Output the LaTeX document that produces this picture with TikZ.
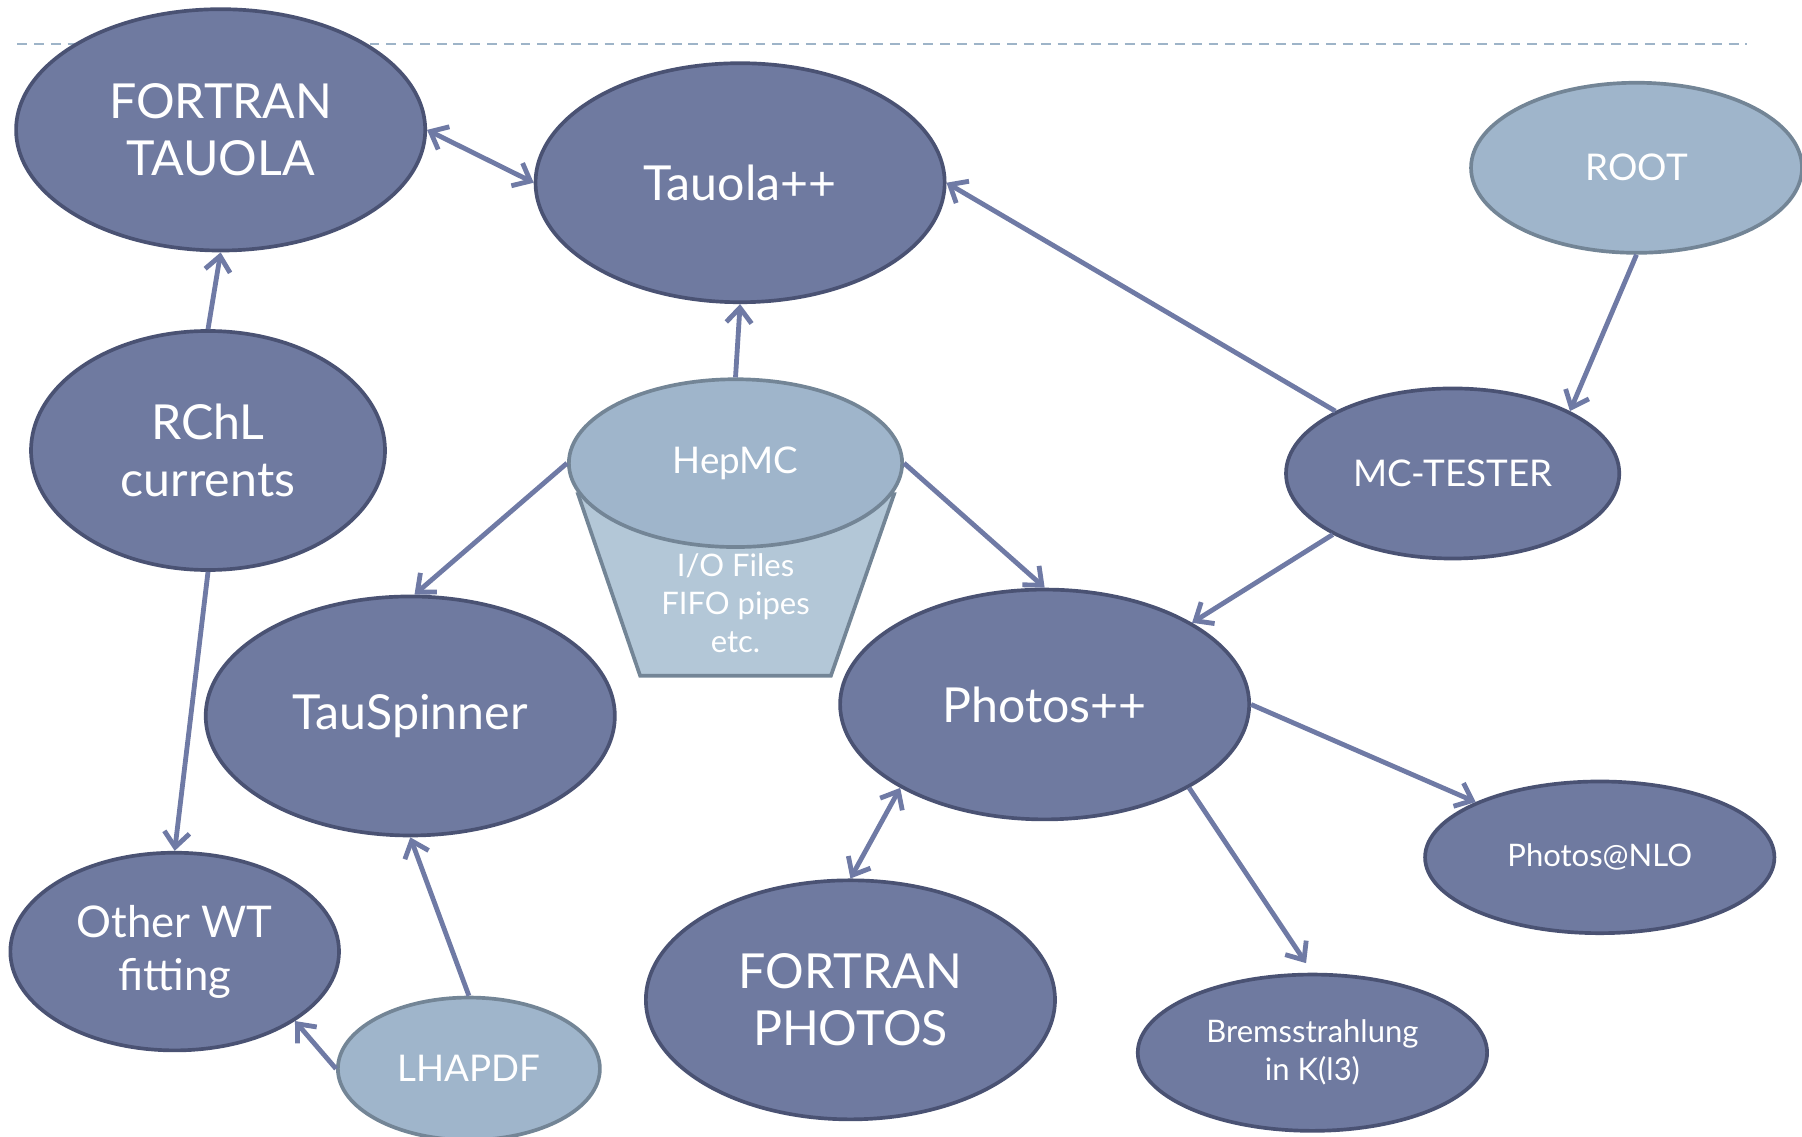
\documentclass[tikz,border=0pt]{standalone}
\usepackage{fontspec}
\setmainfont{Lato}
\usetikzlibrary{shapes.geometric,arrows.meta}
\definecolor{darkfill}{RGB}{111,122,160}
\definecolor{darkline}{RGB}{74,82,115}
\definecolor{lightfill}{RGB}{159,181,203}
\definecolor{lightline}{RGB}{115,133,150}
\definecolor{bucketfill}{RGB}{179,199,215}
\definecolor{arrowcol}{RGB}{111,122,165}
\definecolor{dashcol}{RGB}{158,180,200}
\tikzset{
  x=0.5pt, y=-0.5pt,
  darknode/.style={ellipse, draw=darkline, fill=darkfill, line width=1.6pt, text=white, inner sep=0pt, align=center},
  lightnode/.style={ellipse, draw=lightline, fill=lightfill, line width=1.6pt, text=white, inner sep=0pt, align=center},
  bigfont/.style={font=\fontsize{21}{24.5}\selectfont},
  midfont/.style={font=\fontsize{16}{19}\selectfont},
  smallfont/.style={font=\fontsize{13.5}{16.5}\selectfont},
  conn/.style={draw=arrowcol, line width=2.1pt, -{Straight Barb[length=6.5pt,width=11pt]}},
  biconn/.style={draw=arrowcol, line width=2.1pt, {Straight Barb[length=6.5pt,width=11pt]}-{Straight Barb[length=6.5pt,width=11pt]}},
}
\begin{document}
\begin{tikzpicture}
\useasboundingbox (0,0) rectangle (1568,989);
% dashed header line
\draw[dashcol, line width=0.9pt, dash pattern=on 4.3pt off 3pt] (15,38) coordinate (dl) -- (1520,38) coordinate (dr);
% bucket body
\fill[bucketfill, draw=lightline, line width=1.6pt] (503,430) -- (557,588) -- (723,588) -- (778,430) -- cycle;
\node[smallfont, text=white, align=center] (io) at (640,525) {I/O Files\\FIFO pipes\\etc.};
% nodes
\node[darknode, bigfont, minimum width=178pt, minimum height=105pt] (ft) at (192,113) {FORTRAN\\TAUOLA};
\node[darknode, bigfont, minimum width=178pt, minimum height=104pt] (tau) at (644,159) {Tauola++};
\node[lightnode, midfont, minimum width=144pt, minimum height=74pt] (root) at (1424,146) {ROOT};
\node[darknode, bigfont, minimum width=154pt, minimum height=104pt] (rchl) at (181,392) {RChL\\currents};
\node[lightnode, midfont, minimum width=145pt, minimum height=73pt] (hep) at (640,403) {HepMC};
\node[darknode, midfont, minimum width=145pt, minimum height=74pt] (mct) at (1264,412) {MC-TESTER};
\node[darknode, bigfont, minimum width=178pt, minimum height=104pt] (ts) at (357,623) {TauSpinner};
\node[darknode, bigfont, minimum width=178pt, minimum height=100pt] (ph) at (909,613) {Photos++};
\node[darknode, font=\fontsize{19}{23}\selectfont, minimum width=143pt, minimum height=86pt] (owt) at (152,828) {Other WT\\fitting};
\node[lightnode, midfont, minimum width=114pt, minimum height=62pt] (lh) at (408,930) {LHAPDF};
\node[darknode, bigfont, minimum width=178pt, minimum height=104pt] (fp) at (740,870) {FORTRAN\\PHOTOS};
\node[darknode, smallfont, minimum width=152pt, minimum height=68pt] (br) at (1142,916) {Bremsstrahlung\\in K(l3)};
\node[darknode, smallfont, minimum width=152pt, minimum height=66pt] (nlo) at (1392,746) {Photos@NLO};
% connectors
\draw[biconn] (ft.east) -- (tau.west);
\draw[conn] (rchl.north) -- (ft.south);
\draw[conn] (rchl.south) -- (owt.north);
\draw[conn] (hep.north) -- (tau.south);
\draw[conn] (mct.152) -- (tau.east);
\draw[conn] (root.south) -- (mct.28);
\draw[conn] (mct.207) -- (ph.29);
\draw[conn] (hep.west) -- (ts.88);
\draw[conn] (hep.east) -- (ph.north);
\draw[conn] (lh.north) -- (ts.south);
\draw[conn] (lh.west) -- (owt.330);
\draw[biconn] (ph.210) -- (fp.north);
\draw[conn] (ph.east) -- (nlo.156);
\draw[conn, shorten >=5pt] (ph.330) -- (br.north);
\end{tikzpicture}
\end{document}
